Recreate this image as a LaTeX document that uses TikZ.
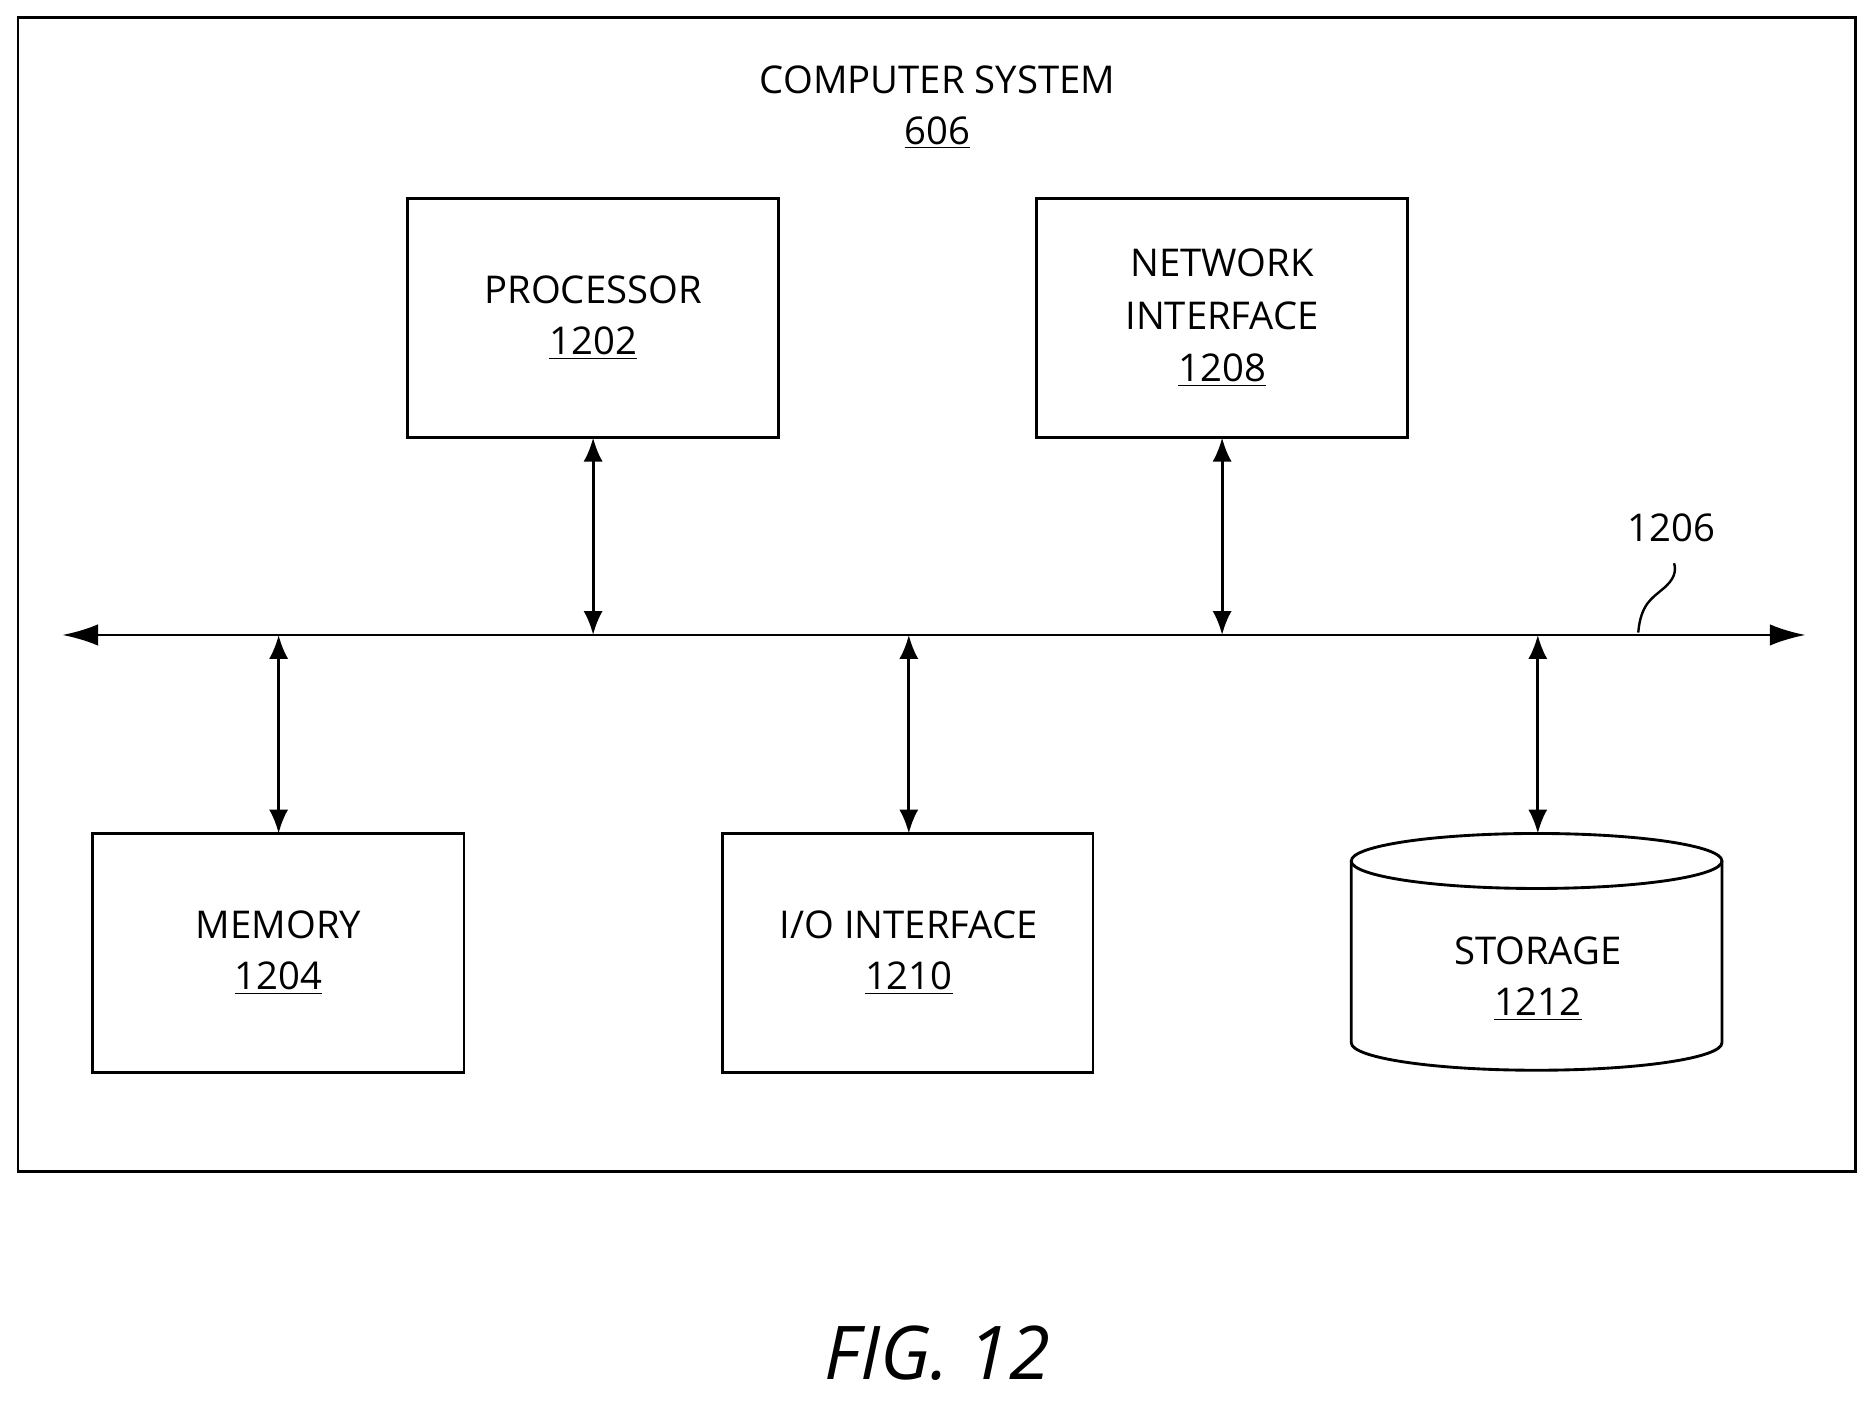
\documentclass[tikz,border=0pt]{standalone}
\usepackage{fontspec}
\setmainfont{Open Sans}
\usetikzlibrary{arrows.meta,shapes.geometric}
\begin{document}
\begin{tikzpicture}[x=0.5pt,y=-0.5pt,
  box/.style={draw,line width=1.2pt},
  lbl/.style={font=\fontsize{16}{19}\selectfont,align=center},
  dbl/.style={line width=1.2pt,{Latex[length=10pt,width=8pt]}-{Latex[length=10pt,width=8pt]}}]
\useasboundingbox (0,0) rectangle (1568,1172);
\draw[box] (15,15) rectangle (1552,980);
\node[lbl] (title) at (784,67) {COMPUTER SYSTEM};
\node[lbl] (t2) at (784,111) {\underline{606}};
\draw[box] (341,166) rectangle (651,366);
\coordinate (procB) at (496,366);
\node[lbl] (p1) at (496,242) {PROCESSOR};
\node[lbl] (p2) at (496,287) {\underline{1202}};
\draw[box] (867,166) rectangle (1177,366);
\coordinate (netB) at (1022,366);
\node[lbl] (n1) at (1022,220) {NETWORK};
\node[lbl] (n2) at (1022,264) {INTERFACE};
\node[lbl] (n3) at (1022,310) {\underline{1208}};
\draw[box] (77,697) rectangle (388,897);
\coordinate (memT) at (233,697);
\node[lbl] (m1) at (233,773) {MEMORY};
\node[lbl] (m2) at (233,818) {\underline{1204}};
\draw[box] (604,697) rectangle (914,897);
\coordinate (ioT) at (760,697);
\node[lbl] (i1) at (760,773) {I/O INTERFACE};
\node[lbl] (i2) at (760,818) {\underline{1210}};
% storage cylinder
\draw[box] (1130,720) -- (1130,872) arc[start angle=180,end angle=0,x radius=155,y radius=23] -- (1440,720);
\draw[box] (1285,720) ellipse[x radius=155,y radius=23];
\coordinate (stT) at (1286,697);
\node[lbl] (s1) at (1286,795) {STORAGE};
\node[lbl] (s2) at (1286,840) {\underline{1212}};
% bus
\coordinate (busL) at (52,531);
\coordinate (busR) at (1510,531);
\draw[line width=1.2pt,{Latex[length=15pt,width=9pt]}-{Latex[length=15pt,width=9pt]}] (busL) -- (busR);
\coordinate (b1) at (496,531);
\coordinate (b2) at (1022,531);
\coordinate (b3) at (233,531);
\coordinate (b4) at (760,531);
\coordinate (b5) at (1286,531);
\draw[dbl] (procB) -- (b1);
\draw[dbl] (netB) -- (b2);
\draw[dbl] (b3) -- (memT);
\draw[dbl] (b4) -- (ioT);
\draw[dbl] (b5) -- (stT);
\node[lbl] (bl) at (1398,441) {1206};
\coordinate (sq1) at (1370,529);
\coordinate (sq2) at (1400,471);
\draw[line width=1pt] (sq1) .. controls (1372,505) and (1382,500) .. (1390,493) .. controls (1400,485) and (1402,478) .. (sq2);
\node[font=\fontsize{31}{36}\selectfont\itshape] (fig) at (784,1132) {FIG. 12};
\end{tikzpicture}
\end{document}
